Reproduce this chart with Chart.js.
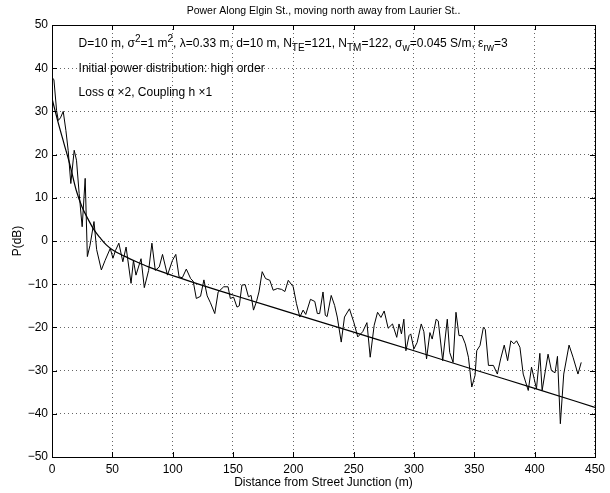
<!DOCTYPE html>
<html>
<head>
<meta charset="utf-8">
<script src="https://cdn.jsdelivr.net/npm/chart.js@4.4.0/dist/chart.umd.min.js"></script>
<style>
  html, body { margin: 0; padding: 0; background: #fff; }
  #wrap { width: 610px; height: 493px; }
</style>
</head>
<body>
<div id="wrap"><canvas id="chart" width="610" height="493"></canvas></div>
<script>
// measured power along the street (m, dB)
const distance = [
  0, 1.6, 3.8, 5.2, 7, 9.3, 11.5, 13.4, 15.6, 18.4, 20.3, 22.5, 25, 27.5, 29.3, 31.5, 34.8, 37, 40.9, 44,
  48.3, 50.5, 52.6, 55.4, 58.7, 61.4, 65.5, 67.5, 69.6, 73.8, 76.5, 80.1, 82.8, 85.6, 88.9, 91.6, 95.7, 99.8, 102.6, 105.3,
  108, 111.3, 114.9, 117, 119.6, 123.1, 125.9, 128.6, 131.3, 134.9, 137.7, 142.3, 145.9, 147.8, 150.5, 153.3, 155.2, 157.4, 160.1, 162.8,
  165, 167, 169.5, 171.5, 174.2, 177, 180.5, 183.3, 186.8, 190.3, 193, 195.8, 199.9, 202.6, 205.4, 208.1, 210.3, 214.2, 217.8, 219.9,
  221.8, 224.6, 226.5, 228, 231.4, 234.2, 236.4, 239.7, 242.4, 246.5, 250.1, 253.4, 257.5, 261, 263.7, 267, 269.8, 272.6, 275.3, 278.6,
  282.2, 285.7, 287.6, 289.6, 291.6, 293.3, 295.9, 297.3, 299.9, 302.6, 306, 308.2, 310.4, 313.2, 315.1, 318.4, 320.1, 323.8, 327.6, 329.6,
  332.4, 334.8, 337.3, 339.8, 342.5, 345.1, 347.9, 350.6, 352, 354.7, 357.5, 359.1, 361.7, 365.8, 369.1, 371.8, 374.8, 377.6, 380.3, 382.8,
  385, 387.8, 390.5, 394.7, 397.4, 399.6, 401.5, 404.3, 406.2, 411.1, 413.9, 416.9, 418.9, 421.3, 424.1, 428.5, 431.8, 435.9, 438.6
];
const power = [
  37.9, 37.3, 30.2, 27.9, 28.5, 30, 25.6, 21, 13.3, 21, 18.7, 11, 3.3, 14.5, -3.6, -1, 4.5, -2, -6.7, -4.5,
  -1.7, -4, -2.2, -0.5, -4.8, -1.4, -9.8, -4.5, -7.9, -4.1, -10.8, -6.8, -0.5, -6.8, -6, -3.1, -7.9, -4.5, -3.1, -8.3,
  -8.5, -6.5, -8.7, -9.3, -13.3, -12.8, -9, -12.7, -14.3, -16.8, -11.8, -10.6, -10.6, -13.3, -13, -15.3, -15, -10.2, -10.1, -12.9,
  -12.6, -16, -14, -11.8, -7.1, -8.7, -9.1, -11.4, -11, -11.2, -11.7, -9.1, -10.6, -14.5, -17.6, -16, -17, -13.5, -14, -16.8,
  -16.8, -11.8, -17.2, -17.5, -12.6, -14.9, -17.6, -23.4, -17.6, -15.7, -18.8, -22.2, -21, -18.9, -26.9, -19.5, -16.5, -17.7, -16.2, -20.2,
  -19.2, -22.3, -19.2, -21.5, -18.1, -25.4, -21.9, -21.5, -25, -23.5, -19.2, -21, -27.3, -21.2, -22.7, -18.1, -18.5, -27.7, -18.1, -25.8,
  -28.1, -16.5, -21.9, -21.9, -23.8, -26.9, -33.8, -31.1, -25.4, -24.2, -20, -20.5, -28.8, -28.8, -30.8, -27.3, -24.1, -27.7, -23.1, -23.8,
  -23.1, -24.6, -30.8, -34.6, -29.2, -31.9, -34.2, -26, -34.6, -26.2, -30, -30.5, -26.7, -42.3, -30.8, -24.1, -26.9, -30.8, -28.1
];

// smooth reference curve
const fitDistance = [0, 5, 10, 15, 20, 25, 30, 35, 40, 45, 50, 60, 70, 80, 100, 150, 200, 250, 300, 350, 400, 450];
const fitPower = [33, 27.5, 22.5, 17.5, 11.8, 7.8, 5, 2.5, 0.7, -0.9, -2, -3.5, -4.8, -6, -8, -12.5, -16.8, -21.1, -25.4, -29.8, -34.1, -38.5];

const titleText = 'Power Along Elgin St., moving north away from Laurier St..';
const xLabel = 'Distance from Street Junction (m)';
const yLabel = 'P(dB)';

// annotation lines: [x, y, parts]
const notes = [
  [22, 45.7, [['D=10 m, \u03c3', ''], ['2', 'sup'], ['=1 m', ''], ['2', 'sup'], [', \u03bb=0.33 m, d=10 m, N', ''],
              ['TE', 'sub'], ['=121, N', ''], ['TM', 'sub'], ['=122, \u03c3', ''], ['w', 'sub'],
              ['=0.045 S/m, \u03b5', ''], ['rw', 'sub'], ['=3', '']]],
  [22, 40, [['Initial power distribution: high order', '']]],
  [22, 34.3, [['Loss \u03b1 \u00d72, Coupling h \u00d71', '']]]
];

const FONT = '"Liberation Sans", Arial, Helvetica, sans-serif';
Chart.defaults.font.family = FONT;
Chart.defaults.font.size = 12;
Chart.defaults.color = '#000';

function drawRich(ctx, x, y, parts, size) {
  let cx = x;
  ctx.textBaseline = 'middle';
  ctx.textAlign = 'left';
  for (const [t, m] of parts) {
    const s = m ? Math.round(size * 0.85) : size;
    ctx.font = s + 'px ' + FONT;
    const dy = m === 'sub' ? size * 0.4 : m === 'sup' ? -size * 0.4 : 0;
    ctx.fillText(t, cx, y + dy);
    cx += ctx.measureText(t).width;
  }
}

const matlabFrame = {
  id: 'matlabFrame',
  afterDraw(chart) {
    const ctx = chart.ctx;
    const a = chart.chartArea;
    const xs = chart.scales.x, ys = chart.scales.y;
    ctx.save();
    ctx.strokeStyle = '#000';
    ctx.lineWidth = 1;
    ctx.strokeRect(Math.round(a.left) + 0.5, Math.round(a.top) + 0.5, Math.round(a.right - a.left), Math.round(a.bottom - a.top));
    const tl = 5;
    ctx.beginPath();
    xs.ticks.forEach(t => {
      const px = Math.round(xs.getPixelForValue(t.value)) + 0.5;
      ctx.moveTo(px, a.bottom); ctx.lineTo(px, a.bottom - tl);
      ctx.moveTo(px, a.top); ctx.lineTo(px, a.top + tl);
    });
    ys.ticks.forEach(t => {
      const py = Math.round(ys.getPixelForValue(t.value)) + 0.5;
      ctx.moveTo(a.left, py); ctx.lineTo(a.left + tl, py);
      ctx.moveTo(a.right, py); ctx.lineTo(a.right - tl, py);
    });
    ctx.stroke();

    ctx.fillStyle = '#000';
    ctx.font = '10.5px ' + FONT;
    ctx.textAlign = 'center';
    ctx.textBaseline = 'middle';
    ctx.fillText(titleText, (a.left + a.right) / 2, 11);

    notes.forEach(([nx, ny, parts]) => {
      drawRich(ctx, xs.getPixelForValue(nx), ys.getPixelForValue(ny), parts, 12);
    });
    ctx.restore();
  }
};

const minus = v => String(v).replace('-', '\u2212');

new Chart(document.getElementById('chart'), {
  type: 'line',
  data: {
    datasets: [
      {
        data: distance.map((d, i) => ({ x: d, y: power[i] })),
        borderColor: '#000',
        borderWidth: 1,
        pointRadius: 0,
        tension: 0,
        fill: false
      },
      {
        data: fitDistance.map((d, i) => ({ x: d, y: fitPower[i] })),
        borderColor: '#000',
        borderWidth: 1.2,
        pointRadius: 0,
        cubicInterpolationMode: 'monotone',
        fill: false
      }
    ]
  },
  options: {
    responsive: false,
    animation: false,
    devicePixelRatio: 1,
    layout: { padding: { top: 25, right: 11, left: 0, bottom: 0 } },
    plugins: {
      legend: { display: false },
      tooltip: { enabled: false },
      title: { display: false }
    },
    scales: {
      x: {
        type: 'linear',
        min: 0,
        max: 450,
        ticks: { stepSize: 50, padding: 5, maxRotation: 0, callback: v => minus(v) },
        grid: { color: 'rgba(0,0,0,0.6)', lineWidth: 1, drawTicks: false },
        border: { display: false, dash: [1, 3] },
        title: { display: true, text: xLabel, font: { size: 12 }, padding: { top: 0, bottom: 3 } },
        afterFit: s => { s.height = 36; }
      },
      y: {
        type: 'linear',
        min: -50,
        max: 50,
        ticks: { stepSize: 10, padding: 4, callback: v => minus(v) },
        grid: { color: 'rgba(0,0,0,0.6)', lineWidth: 1, drawTicks: false },
        border: { display: false, dash: [1, 3] },
        title: { display: true, text: yLabel, font: { size: 12 }, padding: { top: 10, bottom: 0 } },
        afterFit: s => { s.width = 52; }
      }
    }
  },
  plugins: [matlabFrame]
});
</script>
</body>
</html>
